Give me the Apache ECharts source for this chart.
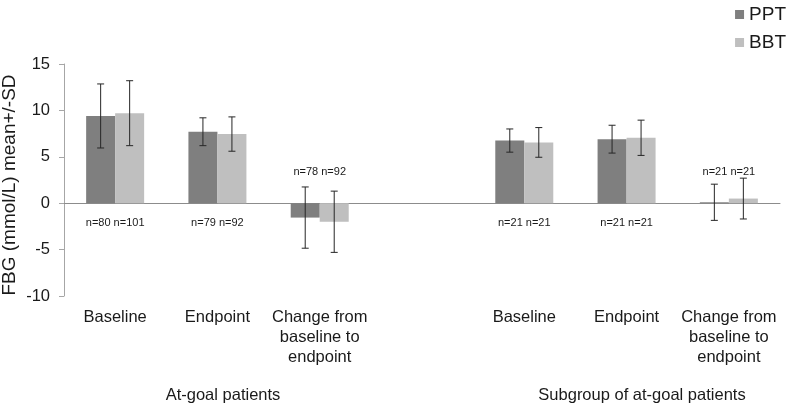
<!DOCTYPE html>
<html><head><meta charset="utf-8">
<script src="https://cdn.jsdelivr.net/npm/echarts@6/dist/echarts.min.js"></script>
<style>html,body{margin:0;padding:0;background:#fff}#c{width:797px;height:407px}</style>
</head><body><div id="c"></div>
<script>
var categories = ['Baseline','Endpoint','Change from\nbaseline to\nendpoint','','Baseline','Endpoint','Change from\nbaseline to\nendpoint'];
var pptMean = [9.4, 7.7, -1.55, null, 6.75, 6.9, 0.1];
var pptSD   = [3.45, 1.5, 3.3, null, 1.25, 1.5, 1.95];
var bbtMean = [9.7, 7.45, -2.0, null, 6.55, 7.05, 0.5];
var bbtSD   = [3.5, 1.85, 3.3, null, 1.6, 1.9, 2.2];
var pptN = ['n=80','n=79','n=78',null,'n=21','n=21','n=21'];
var bbtN = ['n=101','n=92','n=92',null,'n=21','n=21','n=21'];
var groupLabels = ['At-goal patients','Subgroup of at-goal patients'];
var yAxisTitle = 'FBG (mmol/L) mean+/-SD';
var yTicks = {min:-10, max:15, interval:5};

var FONT = "'Liberation Sans', Arial, sans-serif";
var BW = 29;
var chart = echarts.init(document.getElementById('c'));

function errData(m, s){ return m.map(function(v,i){ return v==null?null:[i, v, s[i]]; }).filter(Boolean); }
function nData(){ return pptN.map(function(t,i){ return t==null?null:[i, 0, t + ' ' + bbtN[i]]; }).filter(Boolean); }

function errRender(offset){
  return function(params, api){
    var i = api.value(0), m = api.value(1), s = api.value(2);
    var top = api.coord([i, m + s]), bot = api.coord([i, m - s]);
    var x = top[0] + offset;
    var st = {stroke:'#262626', lineWidth:1};
    return {type:'group', children:[
      {type:'line', shape:{x1:x, y1:top[1], x2:x, y2:bot[1]}, style:st},
      {type:'line', shape:{x1:x-3.5, y1:top[1], x2:x+3.5, y2:top[1]}, style:st},
      {type:'line', shape:{x1:x-3.5, y1:bot[1], x2:x+3.5, y2:bot[1]}, style:st}
    ]};
  };
}
function nRender(params, api){
  var i = api.value(0);
  var zero = api.coord([i, 0]);
  var above = categories[i].indexOf('Change') === 0;
  var y = above ? zero[1] - 31 : zero[1] + 20;
  return {type:'text', x: zero[0], y: y,
    style:{text: api.value(2), fill:'#1a1a1a', font:'11px ' + FONT, align:'center', verticalAlign:'middle'}};
}

chart.setOption({
  animation:false,
  textStyle:{fontFamily:FONT},
  legend:{data:['PPT','BBT'], orient:'vertical', right:6, top:0, icon:'rect', itemWidth:9, itemHeight:9, itemGap:9,
    textStyle:{fontSize:19, color:'#1a1a1a', fontFamily:FONT}},
  grid:{left:64, right:17, top:64, bottom:111, containLabel:false, outerBoundsMode:'none'},
  xAxis:[
    {type:'category', data:categories, axisLine:{onZero:true, lineStyle:{color:'#8c8c8c', width:1}}, axisTick:{show:false}, axisLabel:{show:false}},
    {type:'category', data:categories, position:'bottom', axisLine:{show:false, onZero:false}, axisTick:{show:false},
      axisLabel:{interval:0, fontSize:16.5, lineHeight:20, color:'#1a1a1a', margin:11, fontFamily:FONT}}
  ],
  yAxis:{type:'value', min:yTicks.min, max:yTicks.max, interval:yTicks.interval,
    axisLine:{show:true, lineStyle:{color:'#a6a6a6'}}, axisTick:{show:true, length:5, lineStyle:{color:'#a6a6a6'}},
    splitLine:{show:false}, axisLabel:{fontSize:16.5, color:'#1a1a1a', margin:14, fontFamily:FONT}},
  series:[
    {name:'PPT', type:'bar', data:pptMean, barWidth:BW, barGap:'0%', itemStyle:{color:'#7f7f7f'}},
    {name:'BBT', type:'bar', data:bbtMean, barWidth:BW, barGap:'0%', itemStyle:{color:'#bfbfbf'}},
    {type:'custom', renderItem:errRender(-BW/2), data:errData(pptMean, pptSD), z:5},
    {type:'custom', renderItem:errRender(BW/2), data:errData(bbtMean, bbtSD), z:5},
    {type:'custom', renderItem:nRender, data:nData(), z:6}
  ],
  graphic:[
    {type:'text', x:10, y:185, rotation:Math.PI/2, style:{text:yAxisTitle, font:'19px ' + FONT, fill:'#1a1a1a', align:'center', verticalAlign:'middle'}},
    {type:'text', x:223, y:395, style:{text:groupLabels[0], font:'16.5px ' + FONT, fill:'#1a1a1a', align:'center', verticalAlign:'middle'}},
    {type:'text', x:642, y:395, style:{text:groupLabels[1], font:'16.5px ' + FONT, fill:'#1a1a1a', align:'center', verticalAlign:'middle'}}
  ]
});
</script></body></html>
